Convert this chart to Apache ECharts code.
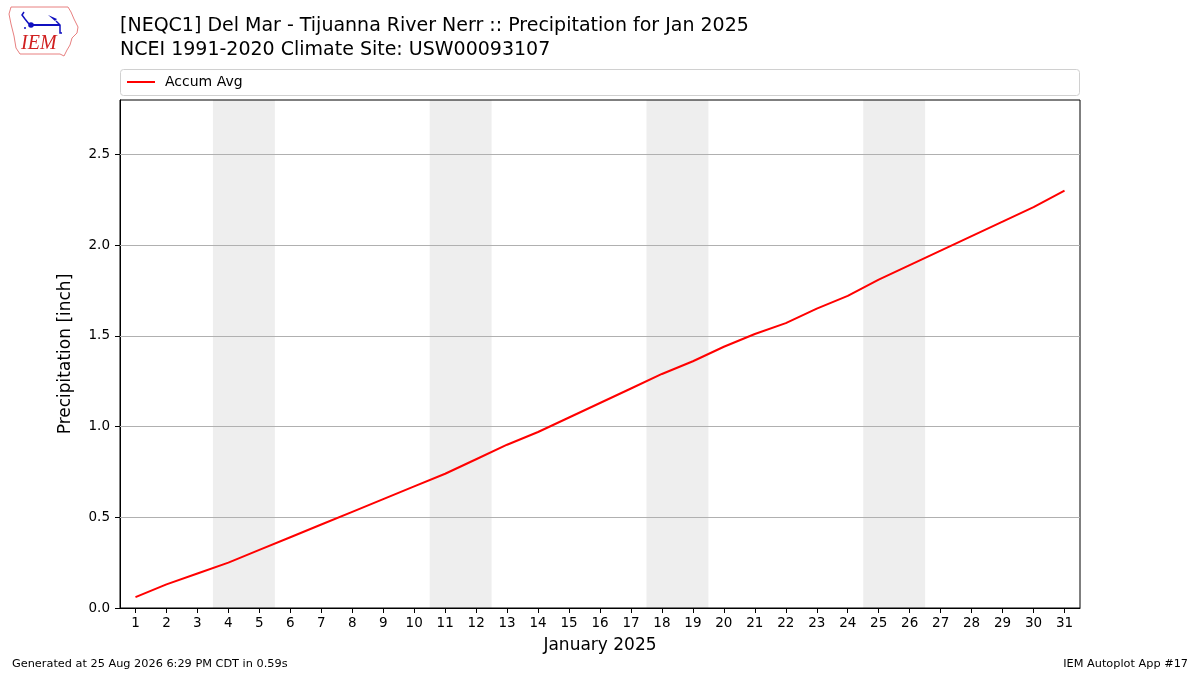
<!DOCTYPE html>
<html>
<head>
<meta charset="utf-8">
<script src="https://cdn.jsdelivr.net/npm/echarts@6/dist/echarts.min.js"></script>
<style>html,body{margin:0;padding:0;background:#fff}#c{width:1200px;height:675px}</style>
</head>
<body>
<div id="c"></div>
<script>
const days = [1,2,3,4,5,6,7,8,9,10,11,12,13,14,15,16,17,18,19,20,21,22,23,24,25,26,27,28,29,30,31];
const accumAvg = [0.06,0.13,0.19,0.25,0.32,0.39,0.46,0.53,0.60,0.67,0.74,0.82,0.90,0.97,1.05,1.13,1.21,1.29,1.36,1.44,1.51,1.57,1.65,1.72,1.81,1.89,1.97,2.05,2.13,2.21,2.30];
const weekends = [[3.5,5.5],[10.5,12.5],[17.5,19.5],[24.5,26.5]];
const yTicks = [0,0.5,1.0,1.5,2.0,2.5];
const titleLine1 = '[NEQC1] Del Mar - Tijuanna River Nerr :: Precipitation for Jan 2025';
const titleLine2 = 'NCEI 1991-2020 Climate Site: USW00093107';

const font = 'DejaVu Sans';
const chart = echarts.init(document.getElementById('c'), null, {renderer:'canvas'});
chart.setOption({
  animation: false,
  backgroundColor: '#fff',
  textStyle: {fontFamily: font},
  title: [{
    text: titleLine1 + '\n' + titleLine2,
    left: 120, top: 14, padding: 0,
    textStyle: {fontFamily: font, fontSize: 19, fontWeight: 'normal', color: '#000', lineHeight: 24}
  }],
  legend: {
    show: true,
    left: 121, top: 75,
    padding: [0, 6],
    itemWidth: 28, itemHeight: 2,
    icon: 'rect',
    textStyle: {fontFamily: font, fontSize: 14, color: '#000', padding:[0,0,0,5]},
    data: ['Accum Avg']
  },
  grid: {left: 120, right: 120, top: 100, bottom: 67, show: true, borderColor: '#000', borderWidth: 1, containLabel: false, z: 3},
  xAxis: {
    type: 'value', min: 0.5, max: 31.5,
    name: 'January 2025', nameLocation: 'middle', nameGap: 29,
    nameTextStyle: {fontFamily: font, fontSize: 17, color: '#000'},
    axisLine: {show: true, lineStyle: {color: '#000'}},
    axisTick: {show: true, length: 5, customValues: days, lineStyle: {color: '#000'}},
    axisLabel: {show: true, customValues: days, fontFamily: font, fontSize: 13.5, color: '#000', margin: 8},
    splitLine: {show: false},
    z: 4
  },
  yAxis: {
    type: 'value', min: 0, max: 2.8,
    name: 'Precipitation [inch]', nameLocation: 'middle', nameGap: 46,
    nameTextStyle: {fontFamily: font, fontSize: 17, color: '#000'},
    axisLine: {show: true, lineStyle: {color: '#000'}},
    axisTick: {show: true, length: 5, customValues: yTicks, lineStyle: {color: '#000'}},
    axisLabel: {show: true, customValues: yTicks, fontFamily: font, fontSize: 13.5, color: '#000', margin: 10,
      formatter: v => v.toFixed(1)},
    splitLine: {show: false},
    z: 4
  },
  series: [
    {
      name: 'weekend', type: 'line', data: [], silent: true, z: 0,
      markArea: {
        silent: true,
        itemStyle: {color: '#eeeeee'},
        data: weekends.map(w => [{xAxis: w[0]}, {xAxis: w[1]}])
      }
    },
    {
      name: 'grid', type: 'line', data: [], silent: true, z: 1,
      markLine: {
        silent: true, symbol: 'none', label: {show: false},
        lineStyle: {color: '#b0b0b0', type: 'solid', width: 1},
        data: yTicks.filter(v => v > 0).map(v => ({yAxis: v}))
      }
    },
    {
      name: 'Accum Avg', type: 'line',
      data: days.map((d, i) => [d, accumAvg[i]]),
      showSymbol: false, symbol: 'none',
      lineStyle: {color: '#ff0000', width: 2},
      itemStyle: {color: '#ff0000'},
      z: 5
    }
  ],
  graphic: [
    {type: 'rect', shape: {x: 120.5, y: 69.5, width: 959, height: 26, r: 3}, style: {fill: '#fff', stroke: '#d0d0d0', lineWidth: 1}, z: -1},
    {type: 'text', left: 12, top: 659, style: {text: 'Generated at 25 Aug 2026 6:29 PM CDT in 0.59s', fontFamily: font, fontSize: 11.3, fill: '#000'}},
    {type: 'text', right: 12, top: 659, style: {text: 'IEM Autoplot App #17', fontFamily: font, fontSize: 11.3, fill: '#000', textAlign: 'right'}},
    {type: 'polygon', shape: {points: [[11,7],[68,7],[71,12],[74,19],[78,27],[77,33],[72,38],[70,45],[67,50],[64,56],[60,54],[20,54],[16,48],[14,36],[11,24],[9,14]]},
      style: {fill: 'none', stroke: '#e88080', lineWidth: 1}},
    {type: 'polyline', shape: {points: [[31,25],[60,25]]}, style: {stroke: '#1010c0', lineWidth: 2}},
    {type: 'circle', shape: {cx: 31, cy: 25, r: 2.8}, style: {fill: '#1010c0'}},
    {type: 'polyline', shape: {points: [[24,12],[22,15],[25,19],[29,24]]}, style: {stroke: '#1010c0', lineWidth: 1.5, fill: 'none'}},
    {type: 'polygon', shape: {points: [[48,15],[57,19],[55,21]]}, style: {fill: '#1010c0'}},
    {type: 'polyline', shape: {points: [[56,21],[60,25],[60,33],[62,33]]}, style: {stroke: '#1010c0', lineWidth: 1.5, fill: 'none'}},
    {type: 'circle', shape: {cx: 25, cy: 28, r: 1}, style: {fill: '#1010c0'}},
    {type: 'text', left: 21, top: 34, style: {text: 'IEM', fontFamily: 'Liberation Serif', fontStyle: 'italic', fontSize: 20, fill: '#d02020'}}
  ]
});
</script>
</body>
</html>
